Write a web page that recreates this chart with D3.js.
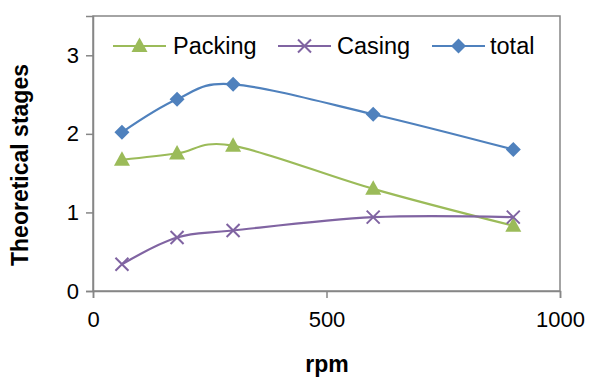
<!DOCTYPE html>
<html>
<head>
<meta charset="utf-8">
<script src="https://cdn.jsdelivr.net/npm/d3@7"></script>
<style>
  html, body { margin: 0; padding: 0; background: #fff; }
  svg { display: block; font-family: Arial, "Liberation Sans", sans-serif; }
</style>
</head>
<body>
<svg id="chart" width="590" height="382"></svg>
<script>
// rotational speed (rpm) at each measurement
const rpm = [62, 180, 300, 600, 900];
// theoretical stages for each section
const packing = [1.67, 1.75, 1.85, 1.30, 0.83];
const casing = [0.34, 0.68, 0.77, 0.94, 0.94];
const total = [2.02, 2.44, 2.63, 2.25, 1.80];
const seriesNames = ["Packing", "Casing", "total"];
const xTicks = [0, 500, 1000];
const yTicks = [0, 1, 2, 3];

const svg = d3.select("#chart");
const m = { left: 93, top: 16, right: 560, bottom: 291 };

const x = d3.scaleLinear().domain([0, 1000]).range([m.left, m.right]);
const y = d3.scaleLinear().domain([0, 3.5]).range([m.bottom, m.top]);

const axisColor = "#868686";

// plot frame
svg.append("rect")
  .attr("x", m.left).attr("y", m.top)
  .attr("width", m.right - m.left).attr("height", m.bottom - m.top)
  .attr("fill", "none").attr("stroke", axisColor).attr("stroke-width", 1.5);

// axes
const xAxis = svg.append("g")
  .attr("transform", `translate(0,${m.bottom})`)
  .call(d3.axisBottom(x).tickValues(xTicks).tickSize(7).tickPadding(12).tickFormat(d3.format("d")));
const yAxis = svg.append("g")
  .attr("transform", `translate(${m.left},0)`)
  .call(d3.axisLeft(y).tickValues(yTicks).tickSize(7).tickPadding(7).tickFormat(d3.format("d")));

[xAxis, yAxis].forEach(g => {
  g.select(".domain").attr("stroke", axisColor).attr("stroke-width", 1.5);
  g.selectAll(".tick line").attr("stroke", axisColor).attr("stroke-width", 1.5);
  g.selectAll(".tick text").attr("fill", "#000").attr("font-size", 22)
    .attr("font-family", "Arial, 'Liberation Sans', sans-serif");
});
xAxis.selectAll(".tick text").attr("dy", "0.75em");

// axis titles
svg.append("text")
  .attr("x", 327).attr("y", 372)
  .attr("text-anchor", "middle")
  .attr("font-size", 23).attr("font-weight", "bold")
  .text("rpm");
svg.append("text")
  .attr("transform", "translate(28,165) rotate(-90)")
  .attr("text-anchor", "middle")
  .attr("font-size", 23).attr("font-weight", "bold")
  .text("Theoretical stages");

const series = [
  { name: seriesNames[0], values: packing, color: "#9BBB59", symbol: "triangle" },
  { name: seriesNames[1], values: casing, color: "#8064A2", symbol: "x" },
  { name: seriesNames[2], values: total, color: "#4F81BD", symbol: "diamond" }
];

const line = d3.line()
  .x((d, i) => x(rpm[i]))
  .y(d => y(d))
  .curve(d3.curveCardinal.tension(0));

function drawMarker(g, s, cx, cy) {
  if (s.symbol === "x") {
    const r = 6.5;
    g.append("path")
      .attr("d", `M${cx - r},${cy - r}L${cx + r},${cy + r}M${cx - r},${cy + r}L${cx + r},${cy - r}`)
      .attr("stroke", s.color).attr("stroke-width", 2).attr("fill", "none");
  } else if (s.symbol === "diamond") {
    const w = 7.5, h = 7.5;
    g.append("path")
      .attr("d", `M${cx},${cy - h}L${cx + w},${cy}L${cx},${cy + h}L${cx - w},${cy}Z`)
      .attr("fill", s.color);
  } else {
    const w = 8, top = 8.5, bot = 6;
    g.append("path")
      .attr("d", `M${cx},${cy - top}L${cx + w},${cy + bot}L${cx - w},${cy + bot}Z`)
      .attr("fill", s.color);
  }
}

// series lines and markers
series.forEach(s => {
  svg.append("path")
    .datum(s.values)
    .attr("d", line)
    .attr("fill", "none")
    .attr("stroke", s.color)
    .attr("stroke-width", 2.2);
  const g = svg.append("g");
  s.values.forEach((v, i) => drawMarker(g, s, x(rpm[i]), y(v)));
});

// legend
const legendItems = [
  { lx: 113, tx: 173 },
  { lx: 278, tx: 337 },
  { lx: 432, tx: 490 }
];
const legendY = 46;
series.forEach((s, i) => {
  const p = legendItems[i];
  const g = svg.append("g");
  g.append("line")
    .attr("x1", p.lx).attr("x2", p.lx + 53)
    .attr("y1", legendY).attr("y2", legendY)
    .attr("stroke", s.color).attr("stroke-width", 2.2);
  drawMarker(g, s, p.lx + 26.5, legendY);
  g.append("text")
    .attr("x", p.tx).attr("y", legendY + 8)
    .attr("font-size", 23.5)
    .attr("fill", "#000")
    .text(s.name);
});
</script>
</body>
</html>
